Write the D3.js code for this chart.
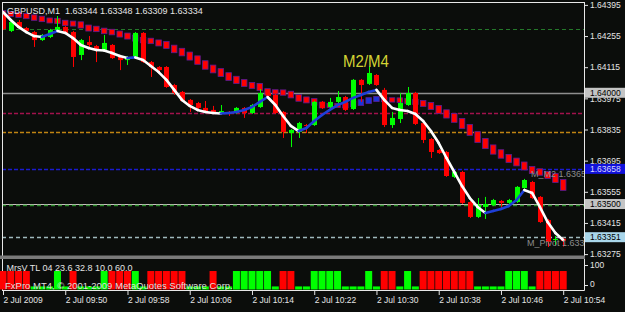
<!DOCTYPE html>
<html>
<head>
<meta charset="utf-8">
<script src="https://cdnjs.cloudflare.com/ajax/libs/d3/7.8.5/d3.min.js"></script>
<style>
html, body { margin: 0; padding: 0; background: #0b0d0b; }
svg { display: block; }
</style>
</head>
<body>
<svg id="chart" width="625" height="312"></svg>
<script>
// GBPUSD M1, 2 Jul 2009 09:42 .. 10:54
var opens  = [1.64350,1.64278,1.64318,1.64291,1.64273,1.64237,1.64251,1.64282,1.64296,1.64273,
              1.64170,1.64228,1.64210,1.64192,1.64215,1.64161,1.64147,1.64161,1.64269,1.64138,
              1.64116,1.64116,1.64035,1.64004,1.63968,1.63954,1.63932,1.63923,1.63909,1.63914,
              1.63909,1.63932,1.63909,1.63936,1.63999,1.63990,1.63914,1.63819,1.63824,1.63855,
              1.63855,1.63959,1.63936,1.63959,1.63981,1.63927,1.64058,1.64040,1.64080,1.64013,
              1.63855,1.63882,1.63945,1.63999,1.63864,1.63792,1.63743,1.63734,1.63622,1.63644,
              1.63509,1.63442,1.63487,1.63496,1.63514,1.63505,1.63509,1.63572,1.63599,1.63532,
              1.63428,1.63338,1.63344];
var highs  = [1.64363,1.64323,1.64327,1.64296,1.64278,1.64264,1.64287,1.64345,1.64300,1.64278,
              1.64242,1.64255,1.64215,1.64260,1.64219,1.64165,1.64165,1.64273,1.64273,1.64143,
              1.64120,1.64120,1.64040,1.64008,1.63972,1.63959,1.63963,1.63941,1.63945,1.63918,
              1.63936,1.63936,1.63950,1.64017,1.64013,1.63995,1.63918,1.63837,1.63869,1.63860,
              1.63963,1.63963,1.63977,1.64008,1.63986,1.64062,1.64062,1.64120,1.64084,1.64022,
              1.63914,1.63999,1.64026,1.64004,1.63869,1.63797,1.63747,1.63738,1.63649,1.63649,
              1.63514,1.63527,1.63532,1.63523,1.63518,1.63523,1.63581,1.63613,1.63604,1.63536,
              1.63433,1.63356,1.63348];
var lows   = [1.64282,1.64273,1.64287,1.64273,1.64206,1.64233,1.64246,1.64278,1.64264,1.64116,
              1.64147,1.64206,1.64138,1.64188,1.64152,1.64102,1.64125,1.64156,1.64134,1.64071,
              1.64093,1.64022,1.63990,1.63959,1.63914,1.63927,1.63914,1.63905,1.63905,1.63896,
              1.63905,1.63887,1.63905,1.63932,1.63981,1.63905,1.63797,1.63756,1.63797,1.63819,
              1.63851,1.63927,1.63923,1.63954,1.63918,1.63923,1.63959,1.64035,1.64031,1.63846,
              1.63842,1.63864,1.63941,1.63855,1.63774,1.63707,1.63725,1.63622,1.63617,1.63500,
              1.63437,1.63437,1.63433,1.63491,1.63482,1.63500,1.63505,1.63568,1.63523,1.63415,
              1.63307,1.63316,1.63309];
var closes = [1.64287,1.64318,1.64291,1.64278,1.64237,1.64260,1.64282,1.64296,1.64269,1.64161,
              1.64237,1.64215,1.64192,1.64224,1.64156,1.64147,1.64161,1.64269,1.64138,1.64116,
              1.64102,1.64026,1.63999,1.63963,1.63945,1.63932,1.63918,1.63909,1.63918,1.63905,
              1.63932,1.63909,1.63945,1.63999,1.63986,1.63909,1.63824,1.63833,1.63864,1.63851,
              1.63959,1.63932,1.63959,1.63981,1.63923,1.64058,1.64035,1.64089,1.64035,1.63855,
              1.63887,1.63954,1.63999,1.63860,1.63788,1.63734,1.63729,1.63626,1.63644,1.63505,
              1.63442,1.63496,1.63500,1.63518,1.63505,1.63518,1.63577,1.63608,1.63527,1.63419,
              1.63330,1.63343,1.63334];

// slow average (square dots) and fast average (white down / blue up)
var slowMA = [1.64359,1.64354,1.64350,1.64345,1.64338,1.64332,1.64325,1.64323,1.64314,1.64311,
              1.64305,1.64291,1.64287,1.64278,1.64273,1.64264,1.64255,1.64246,1.64237,1.64233,
              1.64224,1.64215,1.64197,1.64183,1.64165,1.64147,1.64125,1.64107,1.64091,1.64073,
              1.64058,1.64044,1.64033,1.64026,1.64004,1.64004,1.64001,1.63992,1.63977,1.63968,
              1.63959,1.63945,1.63943,1.63943,1.63943,1.63950,1.63956,1.63965,1.63972,1.63970,
              1.63968,1.63967,1.63963,1.63959,1.63952,1.63941,1.63925,1.63905,1.63887,1.63862,
              1.63833,1.63801,1.63772,1.63745,1.63725,1.63705,1.63689,1.63671,1.63653,1.63644,
              1.63631,1.63617,1.63586];
var fastMA = [1.64363,1.64327,1.64296,1.64273,1.64255,1.64251,1.64264,1.64278,1.64269,1.64246,
              1.64215,1.64201,1.64192,1.64190,1.64179,1.64165,1.64156,1.64159,1.64147,1.64120,
              1.64093,1.64058,1.64013,1.63968,1.63941,1.63923,1.63914,1.63909,1.63907,1.63909,
              1.63914,1.63923,1.63936,1.63959,1.63981,1.63945,1.63896,1.63851,1.63828,1.63842,
              1.63873,1.63900,1.63923,1.63945,1.63959,1.63977,1.63990,1.64004,1.64013,1.63968,
              1.63932,1.63923,1.63918,1.63905,1.63873,1.63828,1.63774,1.63707,1.63644,1.63581,
              1.63527,1.63487,1.63460,1.63469,1.63478,1.63491,1.63518,1.63563,1.63550,1.63487,
              1.63419,1.63370,1.63338];

// MrsV TL histogram (green / red)
var mrsvUp   = [0,0,0,0,10,10,10,60,10,0,
                10,10,10,60,0,0,0,60,10,0,
                0,0,0,0,10,10,10,0,10,10,
                60,60,60,60,60,10,0,0,10,10,
                60,60,60,60,10,10,10,60,10,0,
                0,10,60,10,0,0,0,0,0,0,
                0,10,10,10,10,60,60,60,10,0,
                0,0,0];
var mrsvDown = [60,60,60,60,0,0,0,0,0,60,
                0,0,0,0,60,60,60,0,0,60,
                60,60,60,60,0,0,0,60,0,0,
                0,0,0,0,0,0,60,60,0,0,
                0,0,0,0,0,0,0,0,0,60,
                60,0,0,0,60,60,60,60,60,60,
                60,0,0,0,0,0,0,0,0,60,
                60,60,60];

var priceTicks = [1.64395,1.64255,1.64115,1.63975,1.63835,1.63695,1.63555,1.63415,1.63275];
var timeTickBars = [0,8,16,24,32,40,48,56,64,72];
var timeTickLabels = ['2 Jul 2009','2 Jul 09:50','2 Jul 09:58','2 Jul 10:06','2 Jul 10:14',
                      '2 Jul 10:22','2 Jul 10:30','2 Jul 10:38','2 Jul 10:46','2 Jul 10:54'];

// horizontal objects on the chart
var levelValues = [1.64287, 1.64000, 1.63909, 1.63825, 1.63658, 1.63500, 1.63496, 1.63351];
var levelStyles = [
	{c:'#24782a', w:1,   dash:'4,3'},
	{c:'#8e8e8e', w:1.6, dash:null},
	{c:'#a3124c', w:1.3, dash:'4,2'},
	{c:'#c08412', w:1.3, dash:'4,2'},
	{c:'#1b1bd0', w:1.3, dash:'4,2'},
	{c:'#c9c0c0', w:1,   dash:null},
	{c:'#2a8f2a', w:1.3, dash:'4,3'},
	{c:'#9fb9bd', w:1.4, dash:'4,3'}
];
var boxValues = [1.64000, 1.63658, 1.63500, 1.63351];
var boxFill   = ['#c4c4c4', '#1212dc', '#c4c4c4', '#a9d6ea'];
var boxInk    = ['#000000', '#d8d8ff', '#000000', '#000000'];

var headerText = 'GBPUSD,M1  1.63344 1.63348 1.63309 1.63334';
var subTitle = 'MrsV TL 04 23.6 32.8 10.0 60.0';
var copyright = 'FxPro MT4, \u00a9 2001-2009 MetaQuotes Software Corp.';

var FONT = '"Liberation Sans", Arial, sans-serif';
var FG = '#e4e4e4';

var svg = d3.select('#chart');
var plotL = 2, plotR = 584, plotT = 2, plotB = 255;

svg.append('rect').attr('width', 625).attr('height', 312).attr('fill', '#0b0d0b');

var x = d3.scaleLinear().domain([0, 72]).range([3, 563.2]);
var y = d3.scaleLinear().domain([1.63275, 1.64395]).range([254.1, 4.9]);
var y2 = d3.scaleLinear().domain([0, 100]).range([289.5, 258.7]);

svg.append('defs').append('clipPath').attr('id', 'main-clip')
	.append('rect')
		.attr('x', plotL + 1).attr('y', plotT + 1)
		.attr('width', plotR - plotL - 1).attr('height', plotB - plotT - 1);

var main = svg.append('g').attr('clip-path', 'url(#main-clip)');

// level lines
main.selectAll('line.level')
	.data(levelValues)
	.enter()
	.append('line')
		.attr('class', 'level')
		.attr('x1', plotL).attr('x2', plotR)
		.attr('y1', d => Math.round(y(d)) + 0.5)
		.attr('y2', d => Math.round(y(d)) + 0.5)
		.attr('stroke', (d,i) => levelStyles[i].c)
		.attr('stroke-width', (d,i) => levelStyles[i].w)
		.attr('stroke-dasharray', (d,i) => levelStyles[i].dash);

// slow average drawn as square dots
function slowStep(i){
	var a = i > 0 ? Math.abs(y(slowMA[i]) - y(slowMA[i-1])) : 0;
	var b = i < slowMA.length - 1 ? Math.abs(y(slowMA[i+1]) - y(slowMA[i])) : a;
	return (a + b) / 2;
}
main.selectAll('rect.slow')
	.data(slowMA)
	.enter()
	.append('rect')
		.attr('class', 'slow')
		.attr('x', (d,i) => x(i) - 2.75)
		.attr('width', 5.5)
		.attr('y', (d,i) => y(d) - (slowStep(i) + 4) / 2)
		.attr('height', (d,i) => slowStep(i) + 4)
		.attr('fill', (d,i) => (i > 0 && d > slowMA[i-1]) ? '#1c34d6' : '#ff0000')
		.attr('stroke', '#5a1c96')
		.attr('stroke-width', 0.8);

// candles
var candles = main.selectAll('g.candle')
	.data(opens)
	.enter()
	.append('g')
		.attr('class', 'candle');

var candleColor = (i) => closes[i] >= opens[i] ? '#00ff00' : '#ff0000';

candles.append('line')
	.attr('x1', (d,i) => Math.round(x(i)) + 0.5)
	.attr('x2', (d,i) => Math.round(x(i)) + 0.5)
	.attr('y1', (d,i) => y(highs[i]))
	.attr('y2', (d,i) => y(lows[i]))
	.attr('stroke', (d,i) => candleColor(i))
	.attr('stroke-width', 1);

candles.append('rect')
	.attr('x', (d,i) => Math.round(x(i)) - 2)
	.attr('width', 5)
	.attr('y', (d,i) => y(Math.max(opens[i], closes[i])))
	.attr('height', (d,i) => Math.max(1, Math.abs(y(opens[i]) - y(closes[i]))))
	.attr('fill', (d,i) => candleColor(i));

// fast average, white when falling, blue when rising
main.selectAll('line.fast')
	.data(d3.range(fastMA.length - 1))
	.enter()
	.append('line')
		.attr('class', 'fast')
		.attr('x1', i => x(i)).attr('y1', i => y(fastMA[i]))
		.attr('x2', i => x(i + 1)).attr('y2', i => y(fastMA[i + 1]))
		.attr('stroke', i => fastMA[i + 1] > fastMA[i] ? '#1f3fd8' : '#ffffff')
		.attr('stroke-width', 2.6)
		.attr('stroke-linecap', 'round');

// text objects
main.append('text')
	.attr('x', 343).attr('y', 67)
	.attr('font-family', FONT).attr('font-size', 17)
	.attr('textLength', 46).attr('lengthAdjust', 'spacingAndGlyphs')
	.attr('fill', '#d4d434')
	.text('M2/M4');

main.append('text')
	.attr('x', 531).attr('y', y(1.63658) + 8)
	.attr('font-family', FONT).attr('font-size', 9)
	.attr('fill', '#8c8c8c')
	.text('M_M2 1.63658');

main.append('text')
	.attr('x', 527).attr('y', y(1.63351) + 9)
	.attr('font-family', FONT).attr('font-size', 9)
	.attr('fill', '#8c8c8c')
	.text('M_Pivot 1.63351');

// header
svg.append('text')
	.attr('x', 7).attr('y', 14)
	.attr('font-family', FONT).attr('font-size', 9)
	.attr('fill', FG)
	.attr('xml:space', 'preserve')
	.style('white-space', 'pre')
	.text(headerText);

// price axis
var yAxis = d3.axisRight(y)
	.tickValues(priceTicks)
	.tickFormat(d3.format('.5f'))
	.tickSize(4)
	.tickPadding(2);

var gy = svg.append('g')
	.attr('transform', 'translate(' + plotR + ',0)')
	.call(yAxis);
gy.select('.domain').remove();
gy.attr('font-family', FONT).attr('font-size', 8.5);
gy.selectAll('line').attr('stroke', FG);
gy.selectAll('text').attr('fill', FG);

// price boxes
var boxes = svg.selectAll('g.box')
	.data(boxValues)
	.enter()
	.append('g')
		.attr('class', 'box');
boxes.append('rect')
	.attr('x', plotR + 1).attr('width', 40)
	.attr('y', d => y(d) - 5).attr('height', 10)
	.attr('fill', (d,i) => boxFill[i]);
boxes.append('text')
	.attr('x', plotR + 6).attr('y', d => y(d))
	.attr('dy', '0.35em')
	.attr('font-family', FONT).attr('font-size', 8.5)
	.attr('fill', (d,i) => boxInk[i])
	.text(d => d3.format('.5f')(d));

// frame
var frame = svg.append('g').attr('stroke', '#e8e8e8').attr('stroke-width', 1);
frame.append('line').attr('x1', plotL).attr('x2', plotR + 0.5).attr('y1', plotT + 0.5).attr('y2', plotT + 0.5);
frame.append('line').attr('x1', plotL + 0.5).attr('x2', plotL + 0.5).attr('y1', plotT).attr('y2', 290.5);
frame.append('line').attr('x1', plotR + 0.5).attr('x2', plotR + 0.5).attr('y1', plotT).attr('y2', 290.5);
frame.append('line').attr('x1', plotL).attr('x2', plotR + 0.5).attr('y1', 290.5).attr('y2', 290.5);

// window separator
svg.append('rect')
	.attr('x', 0).attr('y', 255.5).attr('width', plotR + 1).attr('height', 3.5)
	.attr('fill', '#7a7a7a');

// sub window histogram
var sub = svg.append('g');
sub.selectAll('rect.mrsv')
	.data(mrsvUp)
	.enter()
	.append('rect')
		.attr('class', 'mrsv')
		.attr('x', (d,i) => x(i) - 3.5)
		.attr('width', 7)
		.attr('y', (d,i) => y2(Math.max(d, mrsvDown[i])))
		.attr('height', (d,i) => y2(0) - y2(Math.max(d, mrsvDown[i])))
		.attr('fill', (d,i) => d > 0 ? '#00ff00' : '#ff0000');

sub.append('text')
	.attr('x', 6.5).attr('y', 271)
	.attr('font-family', FONT).attr('font-size', 9)
	.attr('fill', FG)
	.text(subTitle);

sub.append('text')
	.attr('x', 5).attr('y', 289)
	.attr('font-family', FONT).attr('font-size', 9.5)
	.attr('fill', '#dedede')
	.text(copyright);

// sub window scale labels (drawn inset like the terminal does)
var subLabels = [100, 0];
var subLabelY = d => d === 100 ? y2(d) + 6 : y2(d) - 5;
sub.selectAll('line.subtick')
	.data(subLabels)
	.enter()
	.append('line')
		.attr('x1', plotR).attr('x2', plotR + 4)
		.attr('y1', d => Math.round(subLabelY(d)) + 0.5)
		.attr('y2', d => Math.round(subLabelY(d)) + 0.5)
		.attr('stroke', FG);
sub.selectAll('text.sublabel')
	.data(subLabels)
	.enter()
	.append('text')
		.attr('x', plotR + 6).attr('y', subLabelY)
		.attr('dy', '0.35em')
		.attr('font-family', FONT).attr('font-size', 8.5)
		.attr('fill', FG)
		.text(d => d);

// time axis
var xAxis = d3.axisBottom(x)
	.tickValues(timeTickBars)
	.tickFormat((d,i) => timeTickLabels[i])
	.tickSize(5)
	.tickPadding(2);

var gx = svg.append('g')
	.attr('transform', 'translate(0,290)')
	.call(xAxis);
gx.select('.domain').remove();
gx.attr('font-family', FONT).attr('font-size', 8.5);
gx.selectAll('line').attr('stroke', FG);
gx.selectAll('text').attr('fill', FG).attr('text-anchor', 'start');
</script>
</body>
</html>
